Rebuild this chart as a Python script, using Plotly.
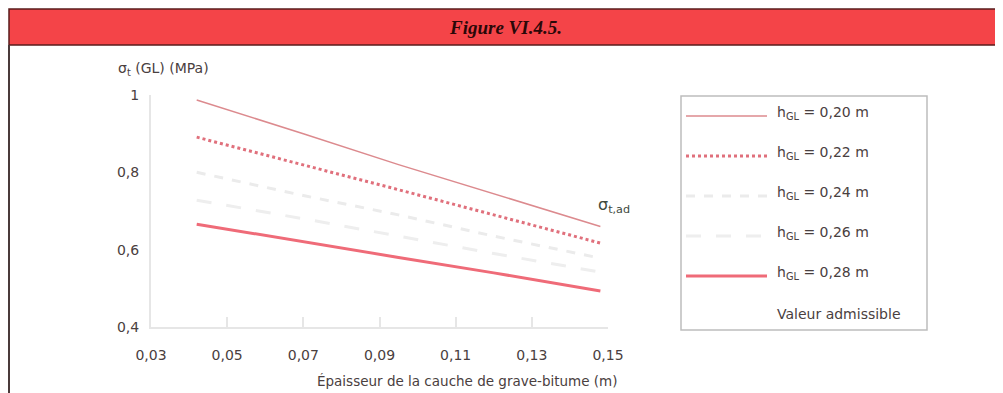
import plotly.graph_objects as go

# ---- data ----
thickness = [0.042, 0.07, 0.095, 0.12, 0.148]
s_020 = [0.987, 0.90, 0.82, 0.745, 0.66]
s_022 = [0.891, 0.82, 0.755, 0.69, 0.617]
s_024 = [0.80, 0.74, 0.69, 0.635, 0.578]
s_026 = [0.728, 0.68, 0.635, 0.59, 0.542]
s_028 = [0.666, 0.62, 0.58, 0.54, 0.493]

series_names = ["h<sub>GL</sub> = 0,20 m", "h<sub>GL</sub> = 0,22 m", "h<sub>GL</sub> = 0,24 m",
                "h<sub>GL</sub> = 0,26 m", "h<sub>GL</sub> = 0,28 m"]
series_values = [s_020, s_022, s_024, s_026, s_028]

x_tickvals = [0.03, 0.05, 0.07, 0.09, 0.11, 0.13, 0.15]
x_ticktext = ["0,03", "0,05", "0,07", "0,09", "0,11", "0,13", "0,15"]
y_tickvals = [0.4, 0.6, 0.8, 1.0]
y_ticktext = ["0,4", "0,6", "0,8", "1"]

styles = [
    dict(color="#dc8a8e", width=1.5, dash="solid"),
    dict(color="#e0707c", width=3, dash="dot"),
    dict(color="#ebebeb", width=3, dash="dash"),
    dict(color="#eeeeee", width=3, dash="longdash"),
    dict(color="#ef6b78", width=3, dash="solid"),
]

# the page body adds an 8 px margin; work in window pixels and offset
OFF = 8
W, H = 1003 - OFF, 393 - OFF
L, R, T, B = 151, 608, 95, 327  # plot area in window pixels


def px(x):
    return (x - L) / (R - L)


def py(y):
    return (B - y) / (B - T)


FONT = "DejaVu Sans"
TXT = "#4a4040"
FS = 14

fig = go.Figure()
for name, vals, st in zip(series_names, series_values, styles):
    fig.add_trace(go.Scatter(x=thickness, y=vals, mode="lines", name=name,
                             line=st, showlegend=False, hoverinfo="x+y+name"))

shapes = []
annotations = []

# header bar
shapes.append(dict(type="rect", xref="paper", yref="paper",
                   x0=px(9), x1=px(1001), y0=py(45), y1=py(9),
                   fillcolor="#f44448", line=dict(color="#5a1c1c", width=1.5), layer="above"))
annotations.append(dict(xref="paper", yref="paper", x=px(505), y=py(27), text="<b><i>Figure VI.4.5.</i></b>",
                        showarrow=False, font=dict(family="Liberation Serif", size=19, color="#2a0808"),
                        xanchor="center", yanchor="middle"))
# left frame line
shapes.append(dict(type="line", xref="paper", yref="paper", x0=px(9), x1=px(9), y0=py(45), y1=py(393),
                   line=dict(color="#4a3a3a", width=2)))

# axis title (y)
annotations.append(dict(xref="paper", yref="paper", x=px(116), y=py(69), text="σ<sub>t</sub> (GL) (MPa)",
                        showarrow=False, font=dict(family=FONT, size=FS, color=TXT),
                        xanchor="left", yanchor="middle"))
# sigma t,ad label
annotations.append(dict(xref="paper", yref="paper", x=px(596), y=py(205), text="σ<sub>t,ad</sub>",
                        showarrow=False, font=dict(family=FONT, size=16, color="#3e4a3e"),
                        xanchor="left", yanchor="middle"))

# custom legend
shapes.append(dict(type="rect", xref="paper", yref="paper",
                   x0=px(681), x1=px(927), y0=py(330), y1=py(96),
                   fillcolor="white", line=dict(color="#bdbdbd", width=1.5), layer="below"))
legend_y = [113, 153, 193, 233, 273]
for name, st, ly in zip(series_names, styles, legend_y):
    shapes.append(dict(type="line", xref="paper", yref="paper", x0=px(686), x1=px(767),
                       y0=py(ly + 3), y1=py(ly + 3), line=st))
    annotations.append(dict(xref="paper", yref="paper", x=px(775), y=py(ly), text=name, showarrow=False,
                            font=dict(family=FONT, size=FS, color=TXT), xanchor="left", yanchor="middle"))
annotations.append(dict(xref="paper", yref="paper", x=px(775), y=py(314), text="Valeur admissible",
                        showarrow=False, font=dict(family=FONT, size=FS, color=TXT),
                        xanchor="left", yanchor="middle"))

# x title
annotations.append(dict(xref="paper", yref="paper", x=px(620), y=py(381),
                        text="Épaisseur de la cauche de grave-bitume (m)", showarrow=False,
                        font=dict(family=FONT, size=13.5, color=TXT), xanchor="right", yanchor="middle"))

fig.update_layout(
    width=W, height=H,
    margin=dict(l=L - OFF, r=1003 - R, t=T - OFF, b=393 - B),
    paper_bgcolor="white", plot_bgcolor="white",
    showlegend=False,
    shapes=shapes, annotations=annotations,
    font=dict(family=FONT, size=FS, color=TXT),
    xaxis=dict(range=[0.03, 0.15], tickvals=x_tickvals, ticktext=x_ticktext,
               showgrid=False, zeroline=False, showline=True, linecolor="#e6e6e6", linewidth=2,
               ticks="inside", ticklen=10, tickcolor="#e6e6e6", tickwidth=2,
               ticklabelstandoff=14, tickfont=dict(family=FONT, size=FS, color=TXT), fixedrange=True),
    yaxis=dict(range=[0.4, 1.0], tickvals=y_tickvals, ticktext=y_ticktext,
               showgrid=False, zeroline=False, showline=True, linecolor="#e6e6e6", linewidth=2,
               ticks="", ticklabelstandoff=7, tickfont=dict(family=FONT, size=FS, color=TXT), fixedrange=True),
)

fig.write_html("out.html")
